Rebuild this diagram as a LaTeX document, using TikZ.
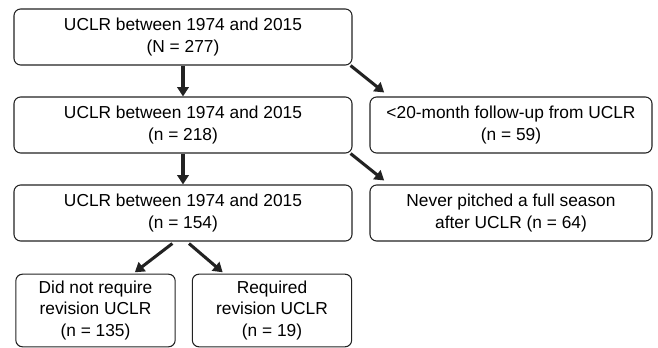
\documentclass[tikz,border=0pt]{standalone}
\usepackage{fontspec}
\setmainfont{Liberation Sans}
\definecolor{flowline}{HTML}{222222}
\usetikzlibrary{arrows.meta,positioning}

\begin{document}
\begin{tikzpicture}[x=0.75pt,y=-0.75pt,font=\fontsize{13}{16}\selectfont]
        \tikzset{
            stage/.style={
                draw=flowline,
                fill=white,
                rounded corners=5pt,
                line width=0.8pt,
                minimum width=253.5pt,
                minimum height=42pt,
                align=center,
                inner sep=0pt
            },
            stageside/.style={stage,minimum width=211.5pt},
            stageleaf/.style={stage,minimum width=119.5pt,minimum height=54.5pt},
            stageflow/.style={
                -{Triangle[length=7pt,width=8.5pt]},
                draw=flowline,
                line width=2.3pt
            }
        }
        \useasboundingbox (0,0) rectangle (658,348);

        \node[stage] (cohort) at (183,37)
            {UCLR between 1974 and 2015\\(N = 277)};
        \node[stage] (followed) at (183,125)
            {UCLR between 1974 and 2015\\(n = 218)};
        \node[stageside] (shortfu) at (511,125)
            {<20-month follow-up from UCLR\\(n = 59)};
        \node[stage] (pitched) at (183,213)
            {UCLR between 1974 and 2015\\(n = 154)};
        \node[stageside] (noseason) at (511,213)
            {Never pitched a full season\\after UCLR (n = 64)};
        \node[stageleaf] (norevision) at (95.5,310.5)
            {Did not require\\revision UCLR\\(n = 135)};
        \node[stageleaf] (revision) at (272,310.5)
            {Required\\revision UCLR\\(n = 19)};

        \draw[stageflow] (cohort.south) -- (followed.north);
        \draw[stageflow] (followed.south) -- (pitched.north);
        \draw[stageflow] ([xshift=-1.5pt]cohort.south east) --
            ([xshift=11pt,yshift=3pt]shortfu.north west);
        \draw[stageflow] ([xshift=-1.5pt]followed.south east) --
            ([xshift=11pt,yshift=3pt]noseason.north west);
        \draw[stageflow] ([xshift=-8pt,yshift=-1.5pt]pitched.south) --
            ([xshift=29.5pt,yshift=1pt]norevision.north);
        \draw[stageflow] ([xshift=4.5pt,yshift=-1.5pt]pitched.south) --
            ([xshift=-37pt,yshift=1pt]revision.north);
    \end{tikzpicture}
\end{document}
